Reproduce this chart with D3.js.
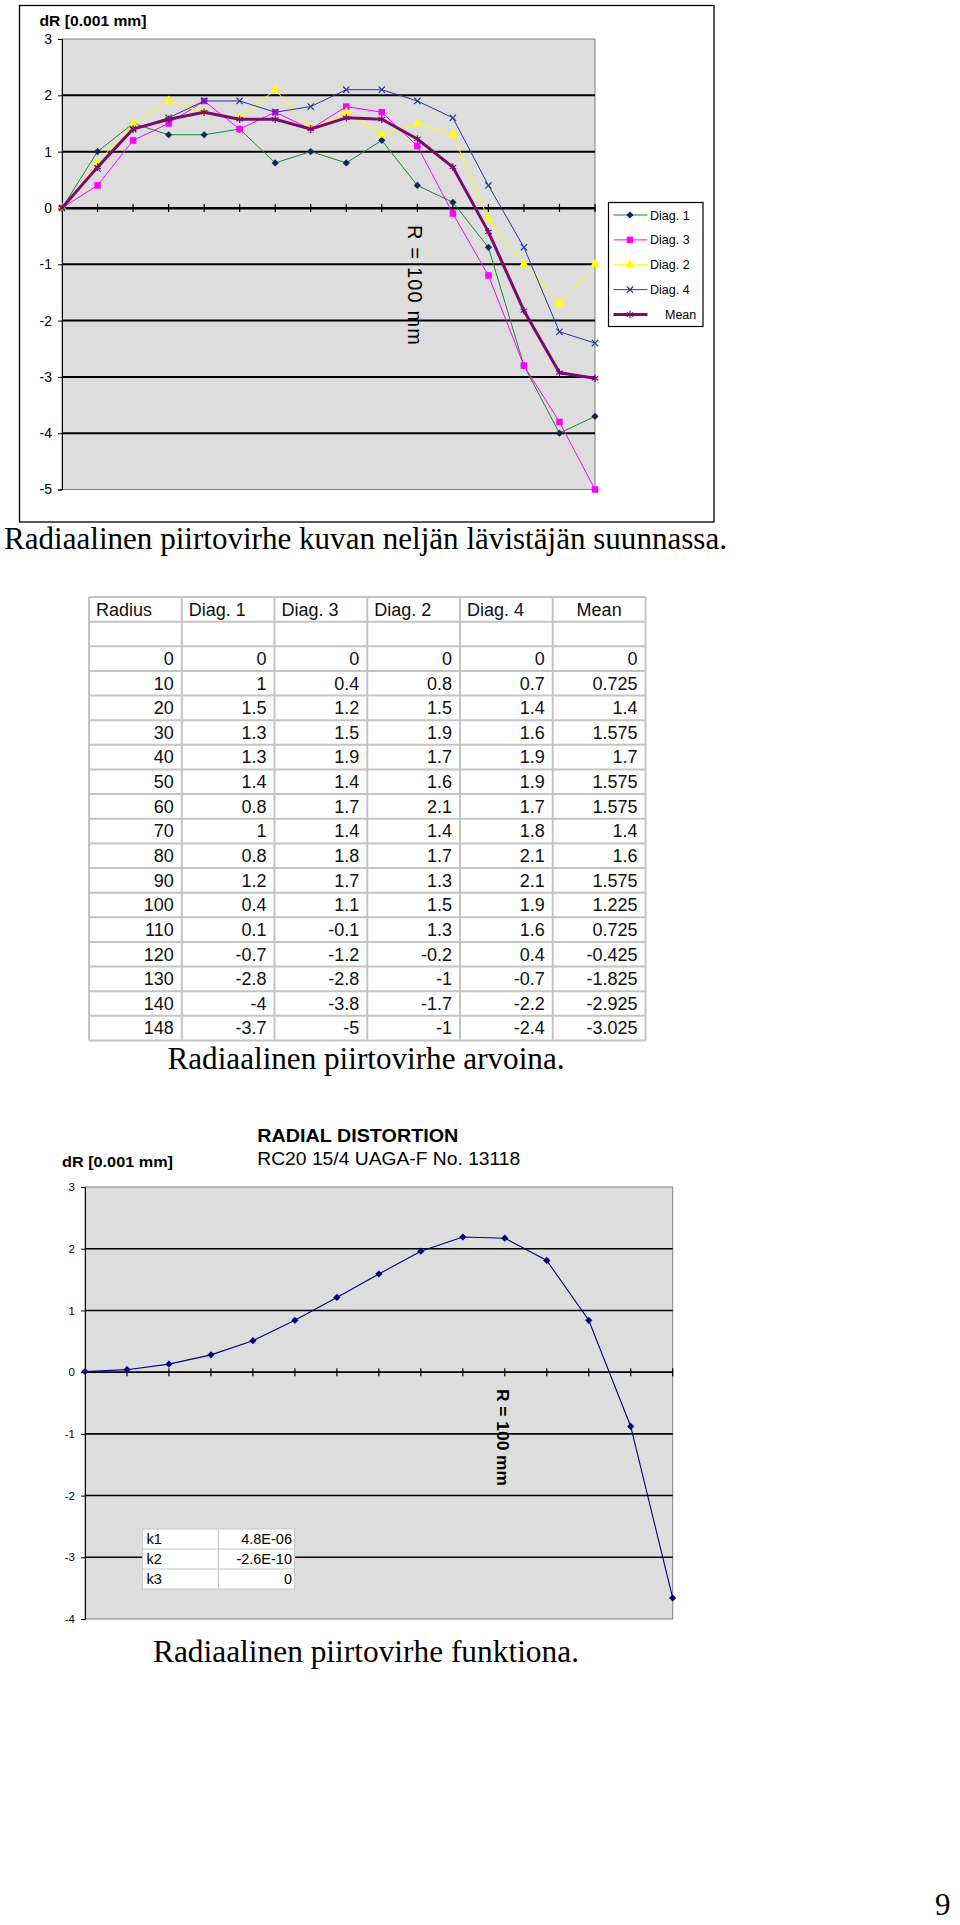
<!DOCTYPE html>
<html>
<head>
<meta charset="utf-8">
<script src="https://cdn.jsdelivr.net/npm/d3@7"></script>
<style>
  html, body { margin: 0; padding: 0; background: #fff; }
  svg { display: block; }
</style>
</head>
<body>
<svg id="page" width="960" height="1925"></svg>
<script>
// ---------------- DATA ----------------
const radius = [0, 10, 20, 30, 40, 50, 60, 70, 80, 90, 100, 110, 120, 130, 140, 148];
const diag1 = [0, 1, 1.5, 1.3, 1.3, 1.4, 0.8, 1, 0.8, 1.2, 0.4, 0.1, -0.7, -2.8, -4, -3.7];
const diag3 = [0, 0.4, 1.2, 1.5, 1.9, 1.4, 1.7, 1.4, 1.8, 1.7, 1.1, -0.1, -1.2, -2.8, -3.8, -5];
const diag2 = [0, 0.8, 1.5, 1.9, 1.7, 1.6, 2.1, 1.4, 1.7, 1.3, 1.5, 1.3, -0.2, -1, -1.7, -1];
const diag4 = [0, 0.7, 1.4, 1.6, 1.9, 1.9, 1.7, 1.8, 2.1, 2.1, 1.9, 1.6, 0.4, -0.7, -2.2, -2.4];
const mean  = [0, 0.725, 1.4, 1.575, 1.7, 1.575, 1.575, 1.4, 1.6, 1.575, 1.225, 0.725, -0.425, -1.825, -2.925, -3.025];
const meanLabels = ["0", "0.725", "1.4", "1.575", "1.7", "1.575", "1.575", "1.4", "1.6", "1.575", "1.225", "0.725", "-0.425", "-1.825", "-2.925", "-3.025"];
const seriesNames = ["Diag. 1", "Diag. 3", "Diag. 2", "Diag. 4", "Mean"];
const tableHeaders = ["Radius", "Diag. 1", "Diag. 3", "Diag. 2", "Diag. 4", "Mean"];
const yTicks1 = [3, 2, 1, 0, -1, -2, -3, -4, -5];

const radius2 = [0, 10, 20, 30, 40, 50, 60, 70, 80, 90, 100, 110, 120, 130, 140];
const distortion = [0.01, 0.04, 0.13, 0.28, 0.51, 0.84, 1.21, 1.59, 1.96, 2.19, 2.17, 1.81, 0.84, -0.88, -3.66];
const yTicks3 = [3, 2, 1, 0, -1, -2, -3, -4];
const kNames = ["k1", "k2", "k3"];
const kValues = ["4.8E-06", "-2.6E-10", "0"];

const captions = [
  "Radiaalinen piirtovirhe kuvan neljän lävistäjän suunnassa.",
  "Radiaalinen piirtovirhe arvoina.",
  "Radiaalinen piirtovirhe funktiona."
];

// ---------------- SETUP ----------------
const svg = d3.select("#page");
const SANS = "'Liberation Sans', Arial, sans-serif";
const SERIF = "'Liberation Serif', 'Times New Roman', serif";
const PLOT_BG = "#dddddd";
const plainFmt = d => String(d);

// ================= CHART 1 =================
const c1 = svg.append("g");
c1.append("rect").attr("x", 19.5).attr("y", 5.5).attr("width", 694.5).attr("height", 516.5)
  .attr("fill", "#fff").attr("stroke", "#000").attr("stroke-width", 1.3);

const x1 = d3.scalePoint().domain(radius).range([62, 595]);
const y1 = d3.scaleLinear().domain([-5, 3]).range([489.5, 39]);

c1.append("rect").attr("x", x1(0)).attr("y", y1(3))
  .attr("width", x1(148) - x1(0)).attr("height", y1(-5) - y1(3))
  .attr("fill", PLOT_BG).attr("stroke", "#808080").attr("stroke-width", 1);

c1.append("g").selectAll("line").data(yTicks1.filter(d => d < 3 && d > -5)).join("line")
  .attr("x1", x1(0)).attr("x2", x1(148))
  .attr("y1", d => y1(d)).attr("y2", d => y1(d))
  .attr("stroke", "#000").attr("stroke-width", 2);

const ax1 = c1.append("g").attr("transform", `translate(${x1(0)},0)`)
  .call(d3.axisLeft(y1).tickValues(yTicks1).tickSize(4).tickPadding(6).tickFormat(plainFmt));
ax1.select(".domain").attr("stroke", "#000");
ax1.selectAll("text").attr("font-family", SANS).attr("font-size", 14).attr("fill", "#000");

const xa1 = c1.append("g").attr("transform", `translate(0,${y1(0)})`)
  .call(d3.axisBottom(x1).tickSize(0).tickFormat(""));
xa1.select(".domain").attr("stroke", "#000").attr("stroke-width", 2);
c1.append("g").selectAll("line").data(radius.slice(1)).join("line")
  .attr("x1", d => x1(d)).attr("x2", d => x1(d))
  .attr("y1", y1(0) - 4).attr("y2", y1(0) + 4)
  .attr("stroke", "#000").attr("stroke-width", 1.2);

c1.append("text").attr("x", 39.5).attr("y", 25.5).text("dR [0.001 mm]")
  .attr("font-family", SANS).attr("font-weight", "bold").attr("font-size", 14.5)
  .attr("textLength", 107).attr("lengthAdjust", "spacingAndGlyphs");

c1.append("text").attr("transform", `translate(${x1(100) - 9},225) rotate(90)`)
  .text("R = 100 mm").attr("font-family", SANS).attr("font-size", 20)
  .attr("textLength", 120).attr("lengthAdjust", "spacing");

// series (rot: extra rotation for the marker, used to make a square diamond)
const series = [
  { name: "Diag. 1", values: diag1, color: "#168a2c", width: 1, sym: d3.symbolSquare, rot: 45, size: 26, fill: "#0b2a55", stroke: "none" },
  { name: "Diag. 3", values: diag3, color: "#ff00ff", width: 1, sym: d3.symbolSquare, rot: 0, size: 42, fill: "#ff00ff", stroke: "none" },
  { name: "Diag. 2", values: diag2, color: "#ffff00", width: 1, sym: d3.symbolTriangle, rot: 0, size: 40, fill: "#ffff00", stroke: "none" },
  { name: "Diag. 4", values: diag4, color: "#2d3a96", width: 1, sym: d3.symbolTimes, rot: 0, size: 28, fill: "none", stroke: "#2d3a96" },
  { name: "Mean", values: mean, color: "#7a0a6e", width: 3, sym: d3.symbolAsterisk, rot: 0, size: 40, fill: "none", stroke: "#7a0a6e" }
];

const line1 = d3.line().x((d, i) => x1(radius[i])).y(d => y1(d));
series.forEach(s => {
  c1.append("path").datum(s.values).attr("d", line1)
    .attr("fill", "none").attr("stroke", s.color).attr("stroke-width", s.width)
    .attr("stroke-linejoin", "round");
  c1.append("g").selectAll("path").data(s.values).join("path")
    .attr("transform", (d, i) => `translate(${x1(radius[i])},${y1(d)}) rotate(${s.rot})`)
    .attr("d", d3.symbol().type(s.sym).size(s.size))
    .attr("fill", s.fill).attr("stroke", s.stroke).attr("stroke-width", s.stroke === "none" ? 0 : 1.2);
});

// legend
const lg = c1.append("g");
lg.append("rect").attr("x", 608.5).attr("y", 202.5).attr("width", 94.5).attr("height", 124)
  .attr("fill", "#fff").attr("stroke", "#000").attr("stroke-width", 1.2);
const ly = d3.scalePoint().domain(seriesNames).range([215, 314.5]);
series.forEach(s => {
  const g = lg.append("g").attr("transform", `translate(0,${ly(s.name)})`);
  g.append("line").attr("x1", 613.5).attr("x2", 647.5).attr("y1", 0).attr("y2", 0)
    .attr("stroke", s.color).attr("stroke-width", s.width);
  g.append("path").attr("transform", `translate(630,0) rotate(${s.rot})`)
    .attr("d", d3.symbol().type(s.sym).size(s.size))
    .attr("fill", s.fill).attr("stroke", s.stroke).attr("stroke-width", s.stroke === "none" ? 0 : 1.2);
  g.append("text").attr("x", s.name === "Mean" ? 665 : 650).attr("y", 0).attr("dy", "0.36em")
    .text(s.name).attr("font-family", SANS).attr("font-size", 12.5);
});

svg.append("text").attr("x", 4).attr("y", 548.5).text(captions[0])
  .attr("font-family", SERIF).attr("font-size", 31)
  .attr("textLength", 723).attr("lengthAdjust", "spacingAndGlyphs");

// ================= TABLE =================
const tbl = svg.append("g");
const colX = d3.scaleBand().domain(tableHeaders).range([89, 645.5]);
const rowKeys = ["header", "blank"].concat(radius.map(String));
const rowY = d3.scaleBand().domain(rowKeys).range([597, 1040.5]);
const tableRows = radius.map((r, i) => [String(r), String(diag1[i]), String(diag3[i]), String(diag2[i]), String(diag4[i]), meanLabels[i]]);

tbl.append("rect").attr("x", 89).attr("y", 597).attr("width", 645.5 - 89).attr("height", 1040.5 - 597)
  .attr("fill", "#fff");
tbl.append("g").selectAll("line").data(rowKeys.concat(["end"])).join("line")
  .attr("x1", 89).attr("x2", 645.5)
  .attr("y1", d => d === "end" ? 1040.5 : rowY(d)).attr("y2", d => d === "end" ? 1040.5 : rowY(d))
  .attr("stroke", "#c4c4c4").attr("stroke-width", 2);
tbl.append("g").selectAll("line").data(tableHeaders.concat(["end"])).join("line")
  .attr("y1", 597).attr("y2", 1040.5)
  .attr("x1", d => d === "end" ? 645.5 : colX(d)).attr("x2", d => d === "end" ? 645.5 : colX(d))
  .attr("stroke", "#c4c4c4").attr("stroke-width", 2);
tbl.append("g").selectAll("text").data(tableHeaders).join("text")
  .attr("x", d => d === "Mean" ? colX(d) + colX.bandwidth() / 2 : colX(d) + 7)
  .attr("text-anchor", d => d === "Mean" ? "middle" : "start")
  .attr("y", rowY("header") + rowY.bandwidth() / 2 + 6.3)
  .text(d => d).attr("font-family", SANS).attr("font-size", 18).attr("fill", "#111");
tableRows.forEach((row, i) => {
  tbl.append("g").selectAll("text").data(row).join("text")
    .attr("x", (d, j) => colX(tableHeaders[j]) + colX.bandwidth() - 8)
    .attr("text-anchor", "end")
    .attr("y", rowY(String(radius[i])) + rowY.bandwidth() / 2 + 6.3)
    .text(d => d).attr("font-family", SANS).attr("font-size", 18).attr("fill", "#111");
});

svg.append("text").attr("x", 167.5).attr("y", 1069).text(captions[1])
  .attr("font-family", SERIF).attr("font-size", 31)
  .attr("textLength", 397).attr("lengthAdjust", "spacingAndGlyphs");

// ================= CHART 3 =================
const c3 = svg.append("g");
const x3 = d3.scalePoint().domain(radius2).range([85, 672.7]);
const y3 = d3.scaleLinear().domain([-4, 3]).range([1619, 1187]);

c3.append("text").attr("x", 257.3).attr("y", 1141.7).text("RADIAL DISTORTION")
  .attr("font-family", SANS).attr("font-weight", "bold").attr("font-size", 19)
  .attr("textLength", 201).attr("lengthAdjust", "spacingAndGlyphs");
c3.append("text").attr("x", 257.3).attr("y", 1165).text("RC20 15/4 UAGA-F No. 13118")
  .attr("font-family", SANS).attr("font-size", 19)
  .attr("textLength", 263).attr("lengthAdjust", "spacingAndGlyphs");
c3.append("text").attr("x", 62).attr("y", 1167).text("dR [0.001 mm]")
  .attr("font-family", SANS).attr("font-weight", "bold").attr("font-size", 15)
  .attr("textLength", 111).attr("lengthAdjust", "spacingAndGlyphs");

c3.append("rect").attr("x", x3(0)).attr("y", y3(3))
  .attr("width", x3(140) - x3(0)).attr("height", y3(-4) - y3(3))
  .attr("fill", PLOT_BG).attr("stroke", "#808080").attr("stroke-width", 1);

c3.append("g").selectAll("line").data(yTicks3.filter(d => d < 3 && d > -4)).join("line")
  .attr("x1", x3(0)).attr("x2", x3(140))
  .attr("y1", d => y3(d)).attr("y2", d => y3(d))
  .attr("stroke", "#000").attr("stroke-width", 1.6);

const ax3 = c3.append("g").attr("transform", `translate(${x3(0)},0)`)
  .call(d3.axisLeft(y3).tickValues(yTicks3).tickSize(4).tickPadding(6).tickFormat(plainFmt));
ax3.select(".domain").attr("stroke", "#000");
ax3.selectAll("text").attr("font-family", SANS).attr("font-size", 11.5).attr("fill", "#000");

c3.append("g").selectAll("line").data(radius2.slice(1)).join("line")
  .attr("x1", d => x3(d)).attr("x2", d => x3(d))
  .attr("y1", y3(0) - 4).attr("y2", y3(0) + 4)
  .attr("stroke", "#000").attr("stroke-width", 1.2);

c3.append("text").attr("transform", `translate(${x3(100) - 8},1389) rotate(90)`)
  .text("R = 100 mm").attr("font-family", SANS).attr("font-weight", "bold").attr("font-size", 17)
  .attr("textLength", 97).attr("lengthAdjust", "spacingAndGlyphs");

// k table
const kt = c3.append("g");
const kRow = d3.scaleBand().domain(kNames).range([1529, 1589]);
kt.append("rect").attr("x", 142.5).attr("y", 1529).attr("width", 152).attr("height", 60).attr("fill", "#fff");
kt.append("g").selectAll("line").data(kNames.concat(["end"])).join("line")
  .attr("x1", 142.5).attr("x2", 294.5)
  .attr("y1", d => d === "end" ? 1589 : kRow(d)).attr("y2", d => d === "end" ? 1589 : kRow(d))
  .attr("stroke", "#c8c8c8").attr("stroke-width", 1.2);
[142.5, 218.5, 294.5].forEach(x => kt.append("line").attr("x1", x).attr("x2", x)
  .attr("y1", 1529).attr("y2", 1589).attr("stroke", "#c8c8c8").attr("stroke-width", 1.2));
kt.append("g").selectAll("text").data(kNames).join("text")
  .attr("x", 146.5).attr("y", d => kRow(d) + kRow.bandwidth() / 2 + 5)
  .text(d => d).attr("font-family", SANS).attr("font-size", 14.5);
kt.append("g").selectAll("text").data(kValues).join("text")
  .attr("x", 292).attr("text-anchor", "end")
  .attr("y", (d, i) => kRow(kNames[i]) + kRow.bandwidth() / 2 + 5)
  .text(d => d).attr("font-family", SANS).attr("font-size", 14.5);

const line3 = d3.line().x((d, i) => x3(radius2[i])).y(d => y3(d));
c3.append("path").datum(distortion).attr("d", line3)
  .attr("fill", "none").attr("stroke", "#000080").attr("stroke-width", 1.1);
c3.append("g").selectAll("path").data(distortion).join("path")
  .attr("transform", (d, i) => `translate(${x3(radius2[i])},${y3(d)}) rotate(45)`)
  .attr("d", d3.symbol().type(d3.symbolSquare).size(26))
  .attr("fill", "#000080");

svg.append("text").attr("x", 153).attr("y", 1662).text(captions[2])
  .attr("font-family", SERIF).attr("font-size", 31)
  .attr("textLength", 426).attr("lengthAdjust", "spacingAndGlyphs");

svg.append("text").attr("x", 935).attr("y", 1915).text("9")
  .attr("font-family", SERIF).attr("font-size", 31);
</script>
</body>
</html>
